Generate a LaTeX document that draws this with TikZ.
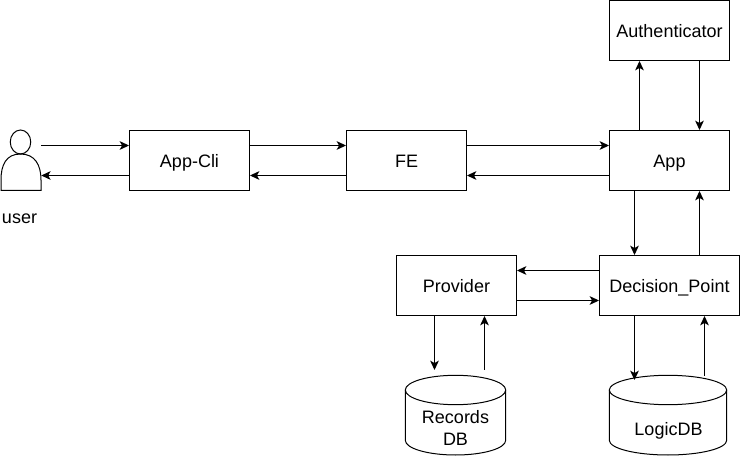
\documentclass[tikz,border=0pt]{standalone}
\usepackage{fontspec}
\setmainfont{Liberation Sans}
\usetikzlibrary{arrows.meta}

\tikzset{
	box/.style={draw, line width=0.75pt, inner sep=0pt, font=\fontsize{13.5}{17}\selectfont, align=center},
	plain/.style={box, text height=10.5pt, text depth=0pt},
	dbtext/.style={inner sep=0pt, font=\fontsize{13.5}{17}\selectfont, align=center},
	shape line/.style={line width=0.75pt},
	link/.style={line width=0.75pt, -{Stealth[length=7pt,width=6.5pt,inset=1.8pt]}}
}

\begin{document}
\begin{tikzpicture}[x=0.75pt, y=-0.75pt]
	\useasboundingbox (0,0) rectangle (740,456);

	\node (cli) [plain, minimum width=90pt, minimum height=45pt] at (189.5,160.5) {App-Cli};
	\node (fe) [plain, minimum width=90pt, minimum height=45pt] at (406.5,160.5) {FE};
	\node (app) [plain, minimum width=90pt, minimum height=45pt] at (669.5,160.5) {App};
	\node (auth) [plain, minimum width=90pt, minimum height=45pt] at (669.5,30.5) {Authenticator};
	\node (prov) [plain, minimum width=90pt, minimum height=45pt] at (456.5,285.5) {Provider};
	\node (dec) [plain, minimum width=105pt, minimum height=45pt] at (669.5,285.5) {Decision\_Point};

	% the two databases
	\draw [shape line] (455.5,390) ellipse (50.2 and 14.7);
	\draw [shape line] (405.3,390) -- (405.3,440.3) arc (180:0:50.2 and 14.7) -- (505.7,390);
	\draw [shape line] (668,390) ellipse (58.7 and 14.7);
	\draw [shape line] (609.3,390) -- (609.3,440.3) arc (180:0:58.7 and 14.7) -- (726.7,390);
	\node (rec) [dbtext] at (455.5,428) {Records\\DB};
	\node (logic) [dbtext] at (668.5,430.5) {LogicDB};

	% the user figure
	\draw [shape line] (20.5,142) ellipse (10.25 and 12);
	\draw [shape line] (1,190.5) -- (1,180) .. controls (1,165) and (6,154) .. (20.5,154)
		.. controls (35,154) and (41,165) .. (41,180) -- (41,190.5) -- cycle;
	\node (user) [minimum width=30pt, minimum height=45pt, inner sep=0pt] at (21,160.5) {};
	\node (userlabel) [font=\fontsize{13.5}{16}\selectfont, inner sep=0pt] at (19.5,219) {user};

	% rows and columns of the links
	\coordinate (r1) at (0,145.5);
	\coordinate (r2) at (0,175.5);
	\coordinate (r3) at (0,270.5);
	\coordinate (r4) at (0,300.5);
	\coordinate (c1) at (639.5,0);
	\coordinate (c2) at (699.5,0);
	\coordinate (c3) at (634.5,0);
	\coordinate (c4) at (434.5,0);
	\coordinate (c5) at (484.5,0);
	\coordinate (c6) at (704.5,0);
	\coordinate (e1) at (0,370);
	\coordinate (e2) at (0,380);
	\coordinate (e3) at (0,376);

	\draw [link] (user.east |- r1) -- (cli.west |- r1);
	\draw [link] (cli.west |- r2) -- (user.east |- r2);
	\draw [link] (cli.east |- r1) -- (fe.west |- r1);
	\draw [link] (fe.west |- r2) -- (cli.east |- r2);
	\draw [link] (fe.east |- r1) -- (app.west |- r1);
	\draw [link] (app.west |- r2) -- (fe.east |- r2);
	\draw [link] (c1 |- app.north) -- (c1 |- auth.south);
	\draw [link] (c2 |- auth.south) -- (c2 |- app.north);
	\draw [link] (c3 |- app.south) -- (c3 |- dec.north);
	\draw [link] (c2 |- dec.north) -- (c2 |- app.south);
	\draw [link] (dec.west |- r3) -- (prov.east |- r3);
	\draw [link] (prov.east |- r4) -- (dec.west |- r4);
	\draw [link] (c4 |- prov.south) -- (c4 |- e1);
	\draw [link] (c5 |- e1) -- (c5 |- prov.south);
	\draw [link] (c3 |- dec.south) -- (c3 |- e2);
	\draw [link] (c6 |- e3) -- (c6 |- dec.south);
\end{tikzpicture}
\end{document}
